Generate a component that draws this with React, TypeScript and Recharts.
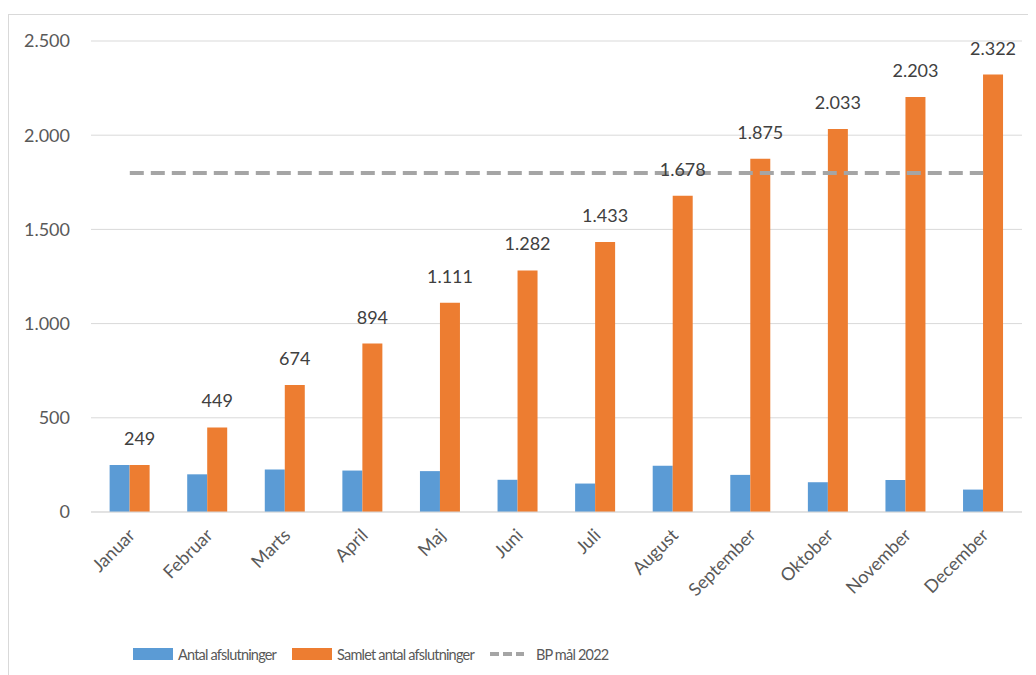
import React from "react"
import { ComposedChart, Bar, Line, XAxis, YAxis, CartesianGrid, Legend, LabelList } from "recharts"

const months = [
    "Januar", "Februar", "Marts", "April", "Maj", "Juni",
    "Juli", "August", "September", "Oktober", "November", "December",
]
const antalAfslutninger = [249, 200, 225, 220, 217, 171, 151, 245, 197, 158, 170, 119]
const samletAntal = [249, 449, 674, 894, 1111, 1282, 1433, 1678, 1875, 2033, 2203, 2322]
const bpMaal = [1800, 1800, 1800, 1800, 1800, 1800, 1800, 1800, 1800, 1800, 1800, 1800]
const yTicks = [0, 500, 1000, 1500, 2000, 2500]

const legendItems = [
    { label: "Antal afslutninger", color: "#5B9BD5", kind: "bar" },
    { label: "Samlet antal afslutninger", color: "#ED7D31", kind: "bar" },
    { label: "BP mål 2022", color: "#A5A5A5", kind: "dash" },
]

const data = months.map((m, i) => ({
    month: m,
    antal: antalAfslutninger[i],
    samlet: samletAntal[i],
    bp: bpMaal[i],
}))

const FONT = "Lato, 'Liberation Sans', sans-serif"

// danish thousands separator
const fmt = (n: number) => String(n).replace(/\B(?=(\d{3})+(?!\d))/g, ".")

const MonthTick = ({ x, y, payload }: any) => (
    <g transform={`translate(${x + 2},${y + 12})`}>
        <text
            transform="rotate(-45)"
            textAnchor="end"
            dy="0.35em"
            fill="#595959"
            fontSize={18}
            fontFamily={FONT}
        >
            {payload.value}
        </text>
    </g>
)

const LegendContent = () => (
    <div style={{ display: "flex", alignItems: "center", height: 20, fontFamily: FONT, fontSize: 14.5, letterSpacing: -0.8, color: "#595959" }}>
        {legendItems.map((item) => (
            <div key={item.label} style={{ display: "flex", alignItems: "center", marginRight: 16 }}>
                {item.kind === "bar" ? (
                    <div style={{ width: 40, height: 12, background: item.color, marginRight: 5 }} />
                ) : (
                    <svg width={34} height={12} style={{ marginRight: 12 }}>
                        <line x1={0} y1={6} x2={34} y2={6} stroke={item.color} strokeWidth={4} strokeDasharray="9 4" />
                    </svg>
                )}
                <span>{item.label}</span>
            </div>
        ))}
    </div>
)

export default function App() {
    return (
        <div style={{ position: "relative", width: 1028, height: 667 }}>
            <div
                style={{
                    position: "absolute",
                    left: 0,
                    top: 6,
                    width: 1028,
                    height: 661,
                    borderTop: "1px solid #D9D9D9",
                    borderLeft: "1px solid #D9D9D9",
                    boxSizing: "border-box",
                }}
            />
            <div style={{ position: "absolute", left: 0, top: 0 }}>
                <ComposedChart
                    width={1028}
                    height={667}
                    data={data}
                    margin={{ top: 33, right: 14, left: 0, bottom: 11 }}
                    barGap={0}
                    barCategoryGap="24%"
                >
                    <CartesianGrid vertical={false} stroke="#D9D9D9" strokeWidth={1} />
                    <XAxis
                        dataKey="month"
                        interval={0}
                        height={132}
                        tickLine={false}
                        axisLine={{ stroke: "#D9D9D9" }}
                        tick={<MonthTick />}
                    />
                    <YAxis
                        width={83}
                        domain={[0, 2500]}
                        ticks={yTicks}
                        tickFormatter={fmt}
                        axisLine={false}
                        tickLine={false}
                        tickSize={0}
                        tickMargin={21}
                        tick={{ fill: "#595959", fontSize: 18, fontFamily: FONT }}
                    />
                    <Legend
                        verticalAlign="bottom"
                        content={<LegendContent />}
                        wrapperStyle={{ left: 125, bottom: 11, width: "auto" }}
                    />
                    <Bar dataKey="antal" fill="#5B9BD5" isAnimationActive={false} />
                    <Bar dataKey="samlet" fill="#ED7D31" isAnimationActive={false}>
                        <LabelList
                            dataKey="samlet"
                            position="top"
                            offset={20}
                            formatter={(v: any) => fmt(v)}
                            fill="#404040"
                            fontSize={18}
                            fontFamily={FONT}
                        />
                    </Bar>
                    <Line
                        dataKey="bp"
                        stroke="#A5A5A5"
                        strokeWidth={4}
                        strokeDasharray="14 7"
                        dot={false}
                        activeDot={false}
                        type="linear"
                        isAnimationActive={false}
                    />
                </ComposedChart>
            </div>
        </div>
    )
}
